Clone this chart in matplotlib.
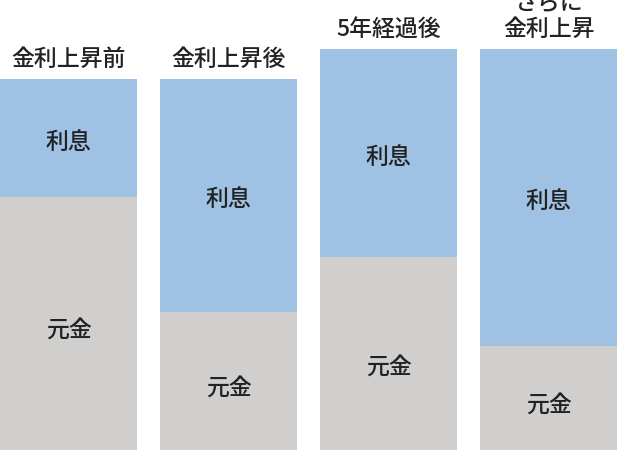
import matplotlib
matplotlib.use("Agg")
import matplotlib.pyplot as plt

plt.rcParams['font.family'] = ['Noto Sans CJK JP', 'DejaVu Sans']

# data (heights, arbitrary units)
categories = ["金利上昇前", "金利上昇後", "5年経過後", "さらに\n金利上昇"]
principal = [268, 153, 208, 119]
interest = [118, 233, 208, 297]
seg_labels = ["元金", "利息"]

BLUE = "#9fc2e4"
GRAY = "#d0cfce"
TEXT = "#222222"

# small manual nudges for the 元金 labels (the original isn't perfectly centred)
principal_nudge = [0, 0, -7, 0]

fig = plt.figure(figsize=(6.3, 4.5), dpi=100)
ax = fig.add_axes([0, 0, 1, 1])

x = list(range(len(categories)))
width = 0.856

ax.bar(x, principal, width=width, color=GRAY, linewidth=0)
ax.bar(x, interest, width=width, bottom=principal, color=BLUE, linewidth=0)

for i in x:
    p = principal[i]
    t = interest[i]
    # segment labels
    ax.text(i, (p + 15) / 2 - 7 + principal_nudge[i], seg_labels[0], ha="center", va="center",
            fontsize=16.5, fontweight="medium", color=TEXT)
    ax.text(i, p + t / 2 - 4, seg_labels[1], ha="center", va="center",
            fontsize=16.5, fontweight="medium", color=TEXT)
    # column titles above each bar
    ax.annotate(categories[i], (i, p + t), xytext=(0, 6), textcoords="offset points",
                ha="center", va="bottom", fontsize=16.5, fontweight="medium",
                color=TEXT, linespacing=1.15)

ax.set_xlim(-0.428, 3.509)
ax.set_ylim(15, 465)
ax.axis("off")

fig.savefig("out.png", dpi=100)
plt.close()
